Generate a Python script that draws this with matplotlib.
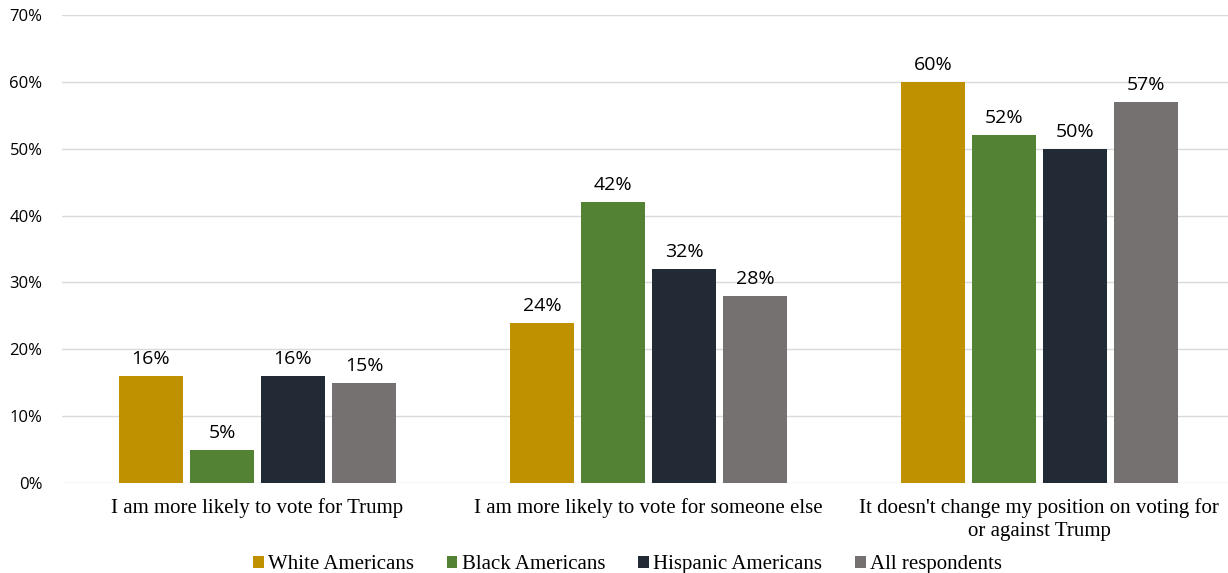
import matplotlib.pyplot as plt
import numpy as np

categories = ["I am more likely to vote for Trump",
              "I am more likely to vote for someone else",
              "It doesn't change my position on voting for\nor against Trump"]
series = ["White Americans", "Black Americans", "Hispanic Americans", "All respondents"]
white = [16, 24, 60]
black = [5, 42, 52]
hispanic = [16, 32, 50]
all_resp = [15, 28, 57]
colors = ["#BF9000", "#548235", "#222A35", "#767171"]

fig = plt.figure(figsize=(12.28, 5.73), dpi=100)
ax = fig.add_axes([0.0505, 0.157, 0.955, 0.817])

x = np.arange(len(categories))
pitch = 0.1816
width = 0.164
for i, (name, vals) in enumerate(zip(series, [white, black, hispanic, all_resp])):
    pos = x + (i - 1.5) * pitch
    bars = ax.bar(pos, vals, width, color=colors[i], label=name)
    for b, v in zip(bars, vals):
        ax.text(b.get_x() + b.get_width() / 2, v + 1.2, f"{v}%", ha="center", va="bottom",
                fontsize=14, family="Open Sans", color="#000000")

ax.set_ylim(0, 70)
ax.set_xlim(-0.5, 2.5)
ax.set_yticks(range(0, 71, 10))
ax.set_yticklabels([f"{t}%" for t in range(0, 71, 10)], fontsize=12, family="Open Sans")
ax.set_xticks(x)
ax.set_xticklabels(categories, fontsize=15, family="Liberation Serif", linespacing=1.3)
ax.tick_params(axis="both", length=0)
ax.tick_params(axis="y", pad=14)
ax.tick_params(axis="x", pad=11)
ax.yaxis.grid(True, color="#D9D9D9", linewidth=1)
ax.set_axisbelow(True)
for s in ax.spines.values():
    s.set_visible(False)

leg = fig.legend(loc="lower center", bbox_to_anchor=(0.511, -0.035), ncol=4, frameon=False,
                 prop={"family": "Liberation Serif", "size": 15}, handlelength=0.5,
                 handleheight=0.5, handletextpad=0.2, columnspacing=1.6)

fig.savefig("out.png", dpi=100)
